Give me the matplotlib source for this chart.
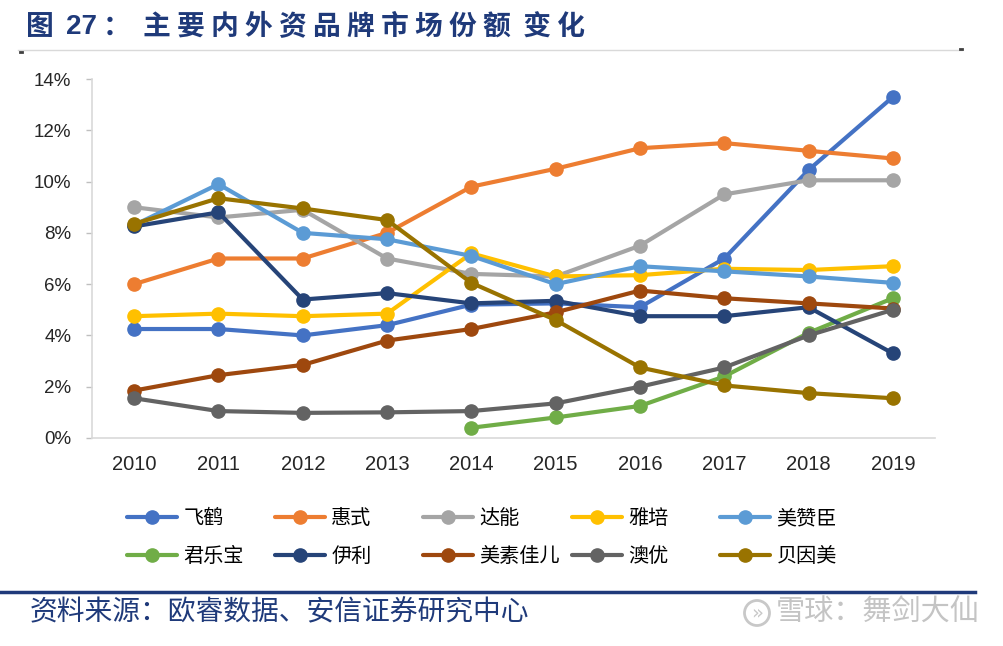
#! /usr/bin/env python3
import matplotlib
matplotlib.use('Agg')
from matplotlib import pyplot as plt
from matplotlib import font_manager
from matplotlib.lines import Line2D
from matplotlib.patches import Circle

plt.rcParams['font.family'] = ['Noto Sans CJK SC', 'DejaVu Sans']

years = [2010, 2011, 2012, 2013, 2014, 2015, 2016, 2017, 2018, 2019]

# Market share, percent
feihe = [4.25, 4.25, 4.0, 4.4, 5.2, 5.25, 5.1, 7.0, 10.45, 13.3]
huishi = [6.0, 7.0, 7.0, 8.0, 9.8, 10.5, 11.3, 11.5, 11.2, 10.9]
danone = [9.0, 8.6, 8.9, 7.0, 6.4, 6.3, 7.5, 9.5, 10.05, 10.05]
abbott = [4.75, 4.85, 4.75, 4.85, 7.2, 6.3, 6.35, 6.6, 6.55, 6.7]
meadjohnson = [8.3, 9.9, 8.0, 7.75, 7.1, 6.0, 6.7, 6.5, 6.3, 6.05]
junlebao = [None, None, None, None, 0.4, 0.8, 1.25, 2.4, 4.1, 5.45]
yili = [8.25, 8.8, 5.4, 5.65, 5.25, 5.35, 4.75, 4.75, 5.1, 3.3]
friso = [1.85, 2.45, 2.85, 3.8, 4.25, 4.9, 5.75, 5.45, 5.25, 5.05]
ausnutria = [1.55, 1.05, 0.98, 1.0, 1.05, 1.35, 2.0, 2.75, 4.0, 5.0]
beingmate = [8.35, 9.35, 8.95, 8.5, 6.05, 4.6, 2.75, 2.05, 1.75, 1.55]

names = ['飞鹤', '惠式', '达能', '雅培', '美赞臣',
         '君乐宝', '伊利', '美素佳儿', '澳优', '贝因美']
series = [feihe, huishi, danone, abbott, meadjohnson,
          junlebao, yili, friso, ausnutria, beingmate]
colors = ['#4472C4', '#ED7D31', '#A5A5A5', '#FFC000', '#5B9BD5',
          '#70AD47', '#264478', '#9E480E', '#636363', '#997300']

yticks = [0, 2, 4, 6, 8, 10, 12, 14]

NAVY = '#1F3A7A'
W, H = 1004, 646


def fx(px):
    return px / W


def fy(py):
    return 1 - py / H


def pick_tick_font():
    # narrow Arial look-alike, if it is there
    try:
        font_manager.findfont(font_manager.FontProperties(family='Liberation Sans Narrow'),
                              fallback_to_default=False)
        return 'Liberation Sans Narrow', 17, 16
    except ValueError:
        return 'Liberation Sans', 14.5, 13.5


tick_family, xsize, ysize = pick_tick_font()

fig = plt.figure(figsize=(W / 100, H / 100), dpi=100)
ax = fig.add_axes([fx(92), fy(438), fx(935 - 92), (438 - 79) / H])

handles = []
for name, vals, c in zip(names, series, colors):
    xs = [x for x, v in zip(years, vals) if v is not None]
    ys = [v for v in vals if v is not None]
    h, = ax.plot(xs, ys, color=c, lw=3, marker='o', markersize=9.5,
                 solid_capstyle='round', solid_joinstyle='round', label=name)
    handles.append(h)

ax.set_xlim(2009.5, 2019.5)
ax.set_ylim(0, 14)
ax.set_xticks(years)
ax.set_xticklabels([str(y) for y in years], family=tick_family, fontsize=xsize, color='#262626')
ax.set_yticks(yticks)
ax.set_yticklabels([f'{v}%' for v in yticks], family=tick_family, fontsize=ysize, color='#262626')
ax.tick_params(axis='x', length=0, pad=12)
ax.tick_params(axis='y', length=4, width=1, color='#BFBFBF', pad=11)

for side in ('top', 'right'):
    ax.spines[side].set_visible(False)
for side in ('left', 'bottom'):
    ax.spines[side].set_color('#D9D9D9')
    ax.spines[side].set_linewidth(1.2)

# Legend: five columns of two, laid out like the original
col_x = [127, 275, 423, 572, 720]
for i, x0 in enumerate(col_x):
    hs = [handles[i], handles[i + 5]]
    fig.legend(hs, [h.get_label() for h in hs], loc='center left',
               bbox_to_anchor=(fx(x0), fy(537.5)), frameon=False,
               borderpad=0, borderaxespad=0, handlelength=2.5,
               handletextpad=0.3, labelspacing=0.85, fontsize=14.5)

# Title, in pieces so the spacing follows the original
title_kw = dict(fontsize=20, fontweight='bold', color=NAVY, va='center', ha='left')
fig.text(fx(26), fy(27), '图', **title_kw)
fig.text(fx(66), fy(27), '27', family='Liberation Sans', **title_kw)
fig.text(fx(103), fy(27), '：', **title_kw)
fig.text(fx(143), fy(27), '主 要 内 外 资 品 牌 市 场 份 额  变 化', **title_kw)

# Rules
fig.add_artist(Line2D([fx(18), fx(962)], [fy(50), fy(50)], color='#D9D9D9', lw=1))
fig.add_artist(Line2D([fx(20), fx(22)], [fy(52), fy(52)], color='#404040', lw=2))
fig.add_artist(Line2D([fx(960), fx(962)], [fy(49), fy(49)], color='#404040', lw=2))
fig.add_artist(Line2D([0, fx(975)], [fy(592), fy(592)], color=NAVY, lw=2.5))

# Footer
fig.text(fx(30), fy(612), '资料来源：欧睿数据、安信证券研究中心',
         fontsize=20, color=NAVY, va='center', ha='left', style='italic')

# Watermark (logo circle sized in inches so it stays round)
fig.add_artist(Circle((7.57, (H - 613) / 100), 0.125, transform=fig.dpi_scale_trans,
                      fill=False, ec='#C8C8C8', lw=2))
fig.text(fx(757), fy(613), '»', fontsize=14, color='#C8C8C8',
         ha='center', va='center', family='DejaVu Sans')
fig.text(fx(776), fy(613), '雪球：舞剑大仙', fontsize=21, color='#C4C4C4',
         va='center', ha='left')

fig.savefig('out.png', dpi=100)
